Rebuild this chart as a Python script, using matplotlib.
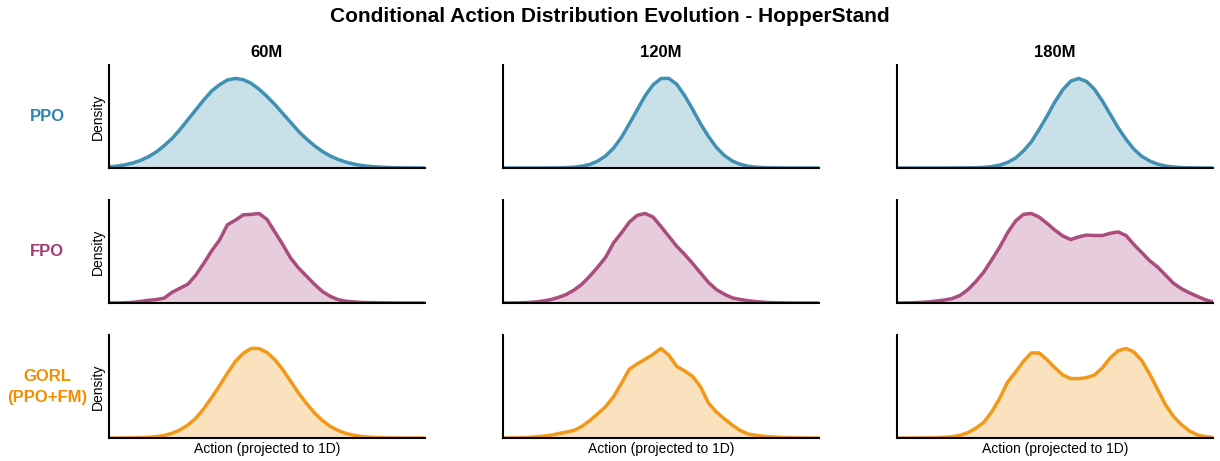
import numpy as np
import matplotlib.pyplot as plt

plt.rcParams['font.family'] = ['Liberation Sans', 'DejaVu Sans']

# Shared action grid (normalized projection of the action space)
action = np.linspace(0.0, 1.0, 41)

methods = ['PPO', 'FPO', 'GORL\n(PPO+FM)']
checkpoints = ['60M', '120M', '180M']
colors = ['#2E86AB', '#A23B72', '#F18F01']

# KDE values (relative density)
ppo_60 = [0.012, 0.021, 0.035, 0.055, 0.085, 0.126, 0.18, 0.25, 0.33, 0.43,
          0.54, 0.65, 0.76, 0.86, 0.93, 0.983, 1.0, 0.986, 0.946, 0.88,
          0.80, 0.71, 0.61, 0.51, 0.41, 0.325, 0.25, 0.186, 0.135, 0.095,
          0.066, 0.044, 0.028, 0.018, 0.011, 0.007, 0.004, 0.002, 0.001, 0.001, 0.0]
ppo_120 = [0.0, 0.0, 0.0, 0.0, 0.0, 0.0, 0.001, 0.001, 0.004, 0.009,
           0.020, 0.040, 0.077, 0.135, 0.22, 0.34, 0.49, 0.645, 0.80, 0.92,
           0.99, 0.99, 0.925, 0.80, 0.65, 0.49, 0.35, 0.23, 0.14, 0.079,
           0.042, 0.020, 0.009, 0.004, 0.002, 0.001, 0.0, 0.0, 0.0, 0.0, 0.0]
ppo_180 = [0.0, 0.0, 0.0, 0.0, 0.0, 0.0, 0.0, 0.001, 0.001, 0.002,
           0.003, 0.007, 0.016, 0.032, 0.062, 0.11, 0.19, 0.29, 0.43, 0.58,
           0.74, 0.875, 0.97, 1.0, 0.967, 0.88, 0.75, 0.60, 0.45, 0.32,
           0.21, 0.13, 0.078, 0.043, 0.022, 0.011, 0.005, 0.002, 0.001, 0.0, 0.0]

fpo_60 = [0.0, 0.001, 0.003, 0.007, 0.018, 0.030, 0.038, 0.055, 0.12, 0.165,
          0.21, 0.31, 0.44, 0.58, 0.70, 0.87, 0.92, 0.98, 0.985, 0.995,
          0.93, 0.79, 0.65, 0.50, 0.39, 0.30, 0.21, 0.13, 0.075, 0.038,
          0.020, 0.012, 0.006, 0.004, 0.003, 0.002, 0.001, 0.0, 0.0, 0.0, 0.0]
fpo_120 = [0.0, 0.001, 0.002, 0.005, 0.010, 0.022, 0.037, 0.062, 0.095, 0.145,
           0.21, 0.30, 0.40, 0.51, 0.67, 0.78, 0.90, 0.975, 0.995, 0.955,
           0.85, 0.74, 0.63, 0.54, 0.44, 0.335, 0.23, 0.15, 0.10, 0.058,
           0.040, 0.026, 0.016, 0.008, 0.004, 0.002, 0.001, 0.0, 0.0, 0.0, 0.0]
fpo_180 = [0.0, 0.001, 0.003, 0.007, 0.012, 0.022, 0.033, 0.050, 0.085, 0.15,
           0.24, 0.345, 0.48, 0.62, 0.78, 0.91, 0.985, 0.995, 0.955, 0.885,
           0.81, 0.745, 0.705, 0.735, 0.755, 0.75, 0.75, 0.775, 0.79, 0.75,
           0.65, 0.56, 0.47, 0.40, 0.31, 0.22, 0.16, 0.115, 0.075, 0.038, 0.011]

gorl_60 = [0.0, 0.0, 0.001, 0.002, 0.004, 0.008, 0.015, 0.029, 0.053, 0.09,
           0.145, 0.22, 0.325, 0.45, 0.58, 0.72, 0.85, 0.94, 0.994, 0.994,
           0.95, 0.87, 0.76, 0.63, 0.50, 0.385, 0.28, 0.196, 0.13, 0.084,
           0.051, 0.030, 0.017, 0.009, 0.0045, 0.002, 0.001, 0.0, 0.0, 0.0, 0.0]
gorl_120 = [0.0, 0.001, 0.002, 0.005, 0.012, 0.020, 0.030, 0.048, 0.065, 0.085,
            0.13, 0.195, 0.27, 0.35, 0.46, 0.61, 0.765, 0.825, 0.875, 0.93,
            0.995, 0.92, 0.795, 0.745, 0.685, 0.57, 0.39, 0.29, 0.215, 0.145,
            0.085, 0.045, 0.030, 0.019, 0.012, 0.007, 0.004, 0.002, 0.001, 0.0, 0.0]
gorl_180 = [0.0, 0.0, 0.0, 0.001, 0.002, 0.004, 0.008, 0.014, 0.030, 0.060,
            0.11, 0.175, 0.29, 0.44, 0.62, 0.73, 0.85, 0.945, 0.945, 0.87,
            0.78, 0.70, 0.66, 0.66, 0.67, 0.70, 0.78, 0.89, 0.97, 0.995,
            0.955, 0.86, 0.71, 0.54, 0.37, 0.24, 0.15, 0.08, 0.035, 0.015, 0.007]

densities = [[ppo_60, ppo_120, ppo_180],
             [fpo_60, fpo_120, fpo_180],
             [gorl_60, gorl_120, gorl_180]]

fig = plt.figure(figsize=(12.2, 4.61), dpi=100)

lefts = [0.0893, 0.4123, 0.7352]
bottoms = [0.6356, 0.3427, 0.0499]
w, h = 0.259, 0.2234

for i, method in enumerate(methods):
    for j, ckpt in enumerate(checkpoints):
        ax = fig.add_axes([lefts[j], bottoms[i], w, h])
        y = np.array(densities[i][j])
        ax.fill_between(action, y, color=colors[i], alpha=0.25, linewidth=0)
        ax.plot(action, y, color=colors[i], linewidth=2.5, alpha=0.9,
                solid_joinstyle='round', solid_capstyle='round')
        ax.set_xlim(0, 1)
        ax.set_ylim(0, y.max() * 1.15)
        ax.set_xticks([])
        ax.set_yticks([])
        for side in ['top', 'right']:
            ax.spines[side].set_visible(False)
        for side in ['left', 'bottom']:
            ax.spines[side].set_linewidth(1.5)
            ax.spines[side].set_color('black')
        if i == 0:
            ax.set_title(ckpt, fontsize=12, fontweight='bold', pad=6)
        if j == 0:
            ax.set_ylabel('Density', fontsize=10, labelpad=3)
        if i == 2:
            ax.set_xlabel('Action (projected to 1D)', fontsize=10, labelpad=3)

    # row label on the far left
    fig.text(0.0385, bottoms[i] + h * 0.5, method, color=colors[i],
             fontsize=12, fontweight='bold', ha='center', va='center',
             linespacing=1.5)

fig.suptitle('Conditional Action Distribution Evolution - HopperStand',
             fontsize=15, fontweight='bold', y=0.985)

plt.savefig('out.png', dpi=100)
